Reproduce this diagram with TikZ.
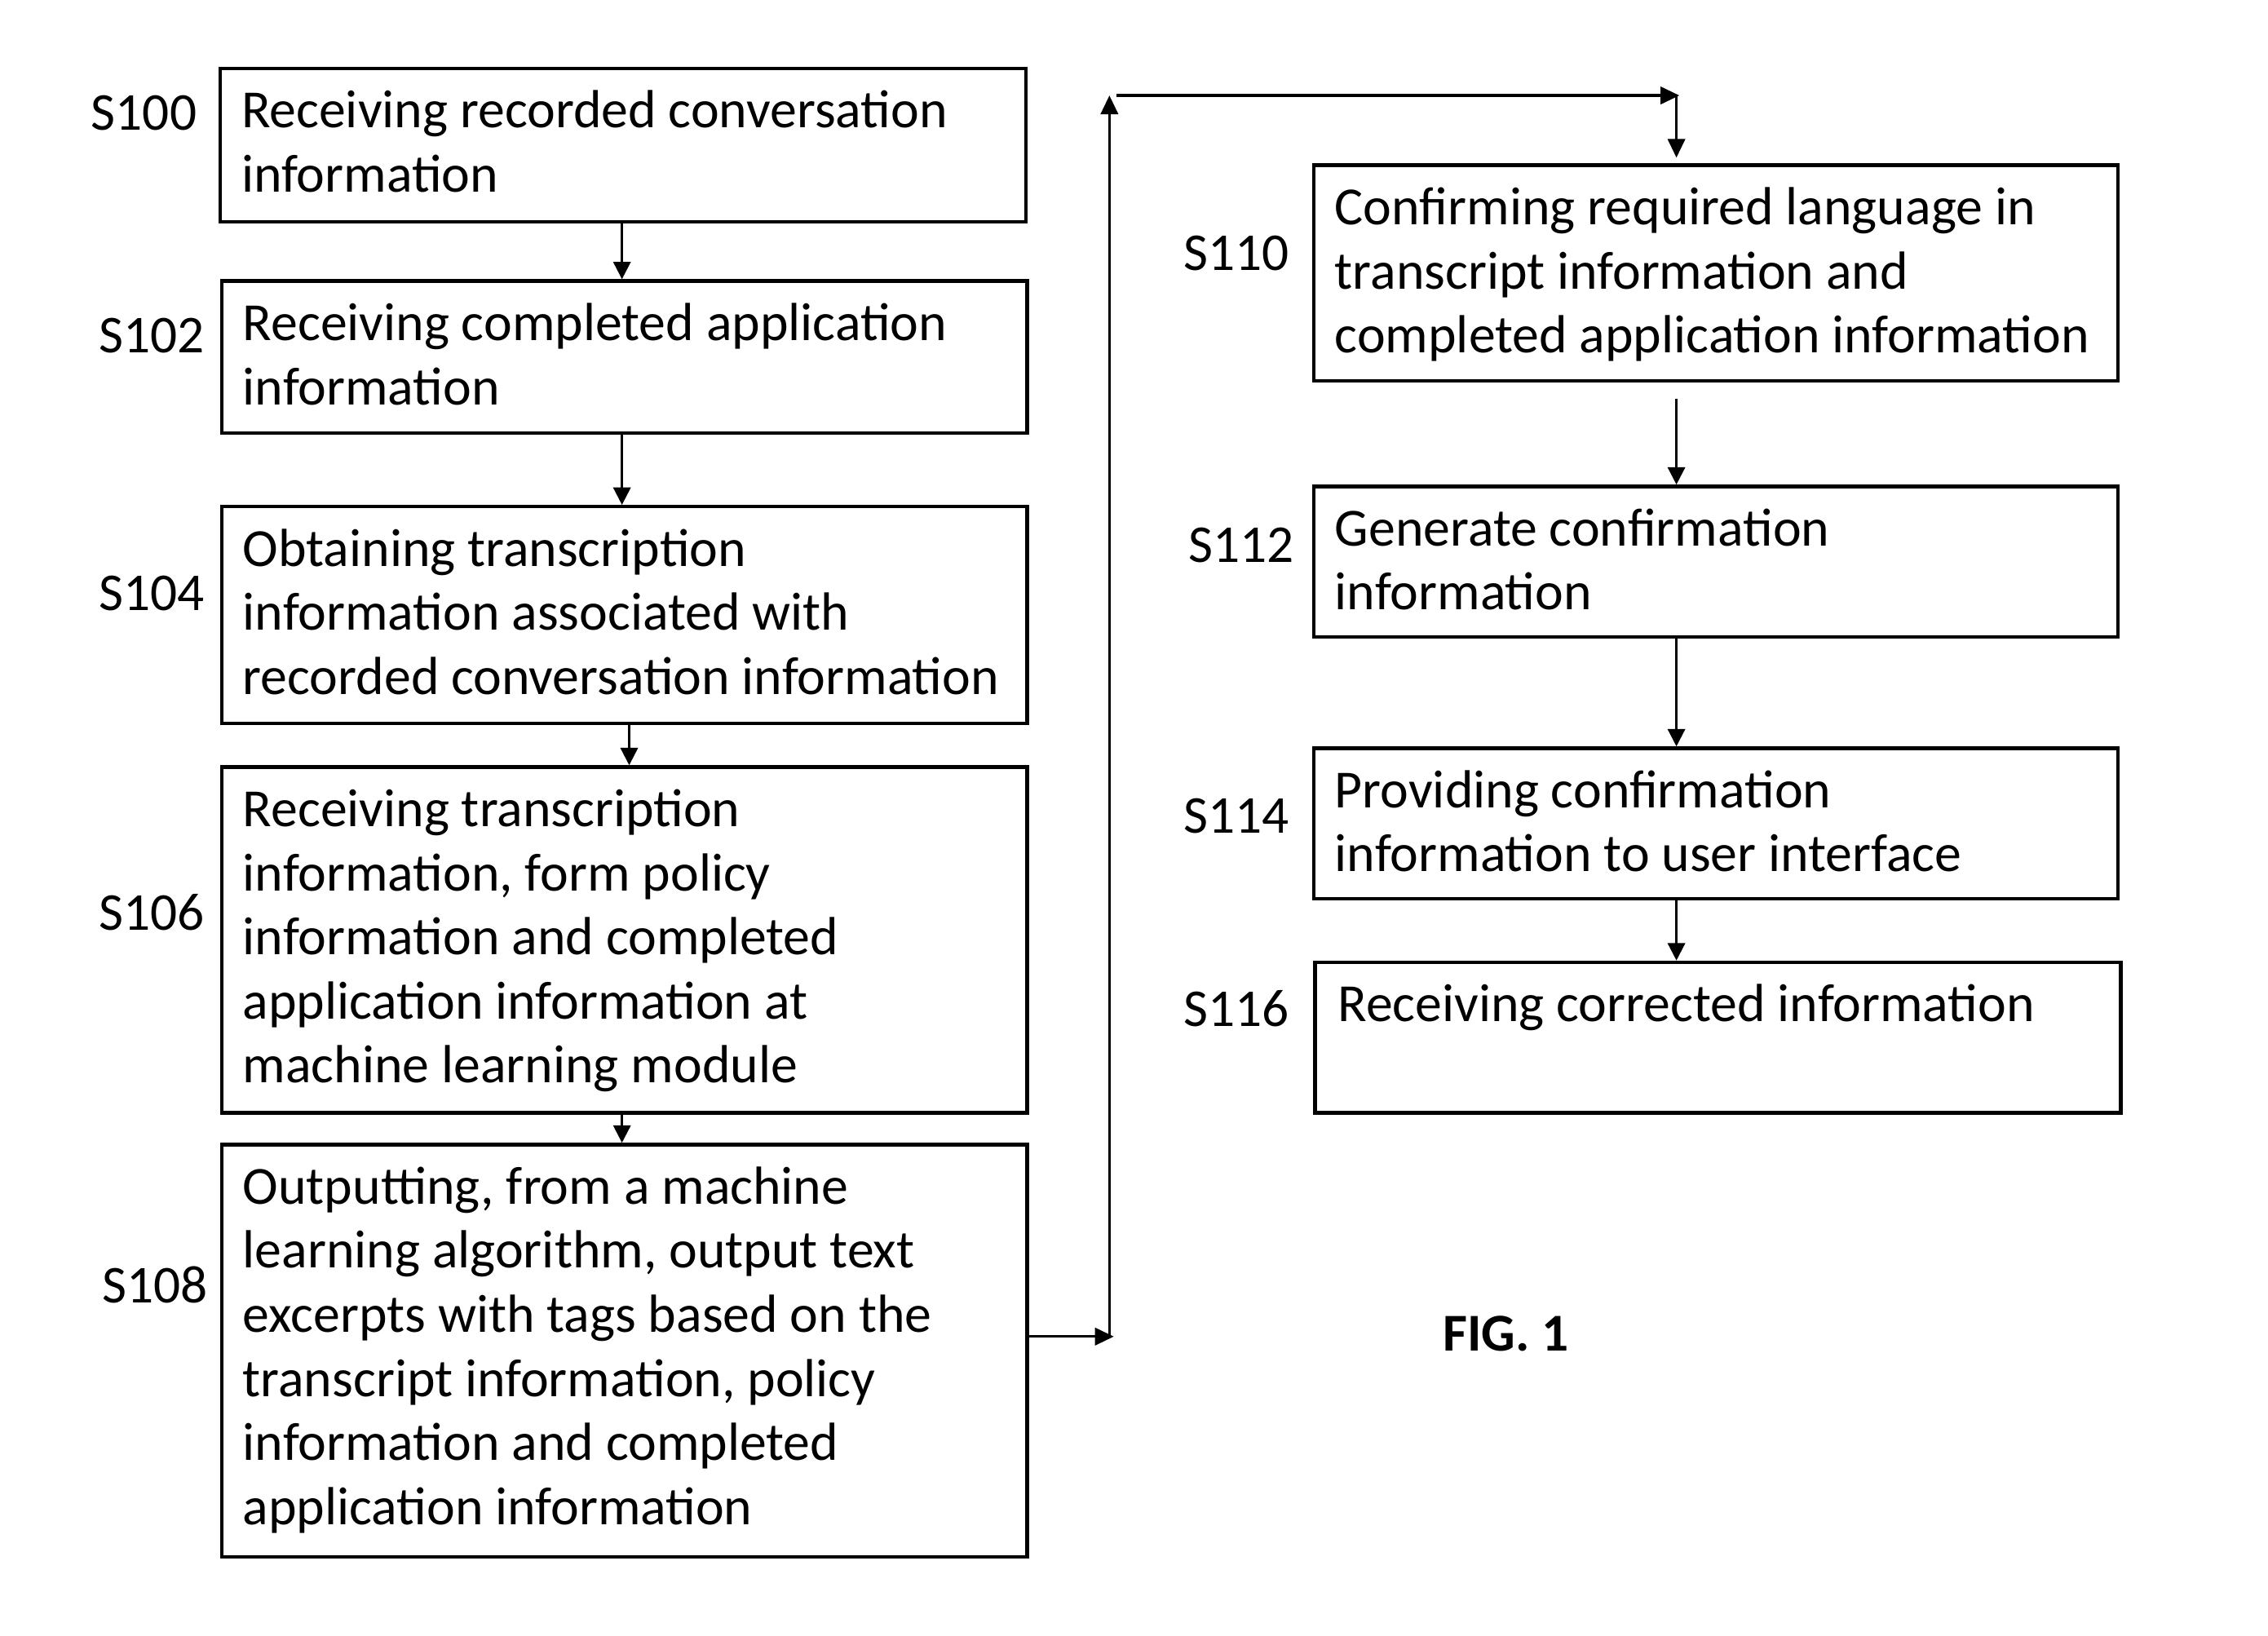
\documentclass[tikz,border=0pt]{standalone}
\usepackage{fontspec}
\setmainfont{Carlito}
\usetikzlibrary{arrows.meta,calc}
\newcommand\firstline{\rule{0pt}{15pt}}
\begin{document}
\begin{tikzpicture}[x=0.5pt,y=-0.5pt,
  stepbox/.style={draw, line width=1.25pt, anchor=north west, inner sep=0pt},
  steptext/.style={anchor=north west, align=left, inner sep=0pt, font=\fontsize{18.55pt}{22.15pt}\selectfont},
  steplabel/.style={inner sep=0pt, font=\fontsize{18.4pt}{22.15pt}\selectfont},
  arr/.style={-{Triangle[length=6pt,width=6pt]}, line width=0.7pt},
  looparr/.style={-{Triangle[length=6.5pt,width=6pt]}, line width=0.9pt},
]
\fill[white] (0,0) rectangle (1568,1131);
\useasboundingbox (0,0) rectangle (1568,1131);

% left column boxes
\node[stepbox, minimum width=278.5pt, minimum height=53pt] (s100) at (151,46) {};
\node[stepbox, minimum width=278.5pt, minimum height=52.5pt] (s102) at (152,193) {};
\node[stepbox, minimum width=278.5pt, minimum height=75pt] (s104) at (152,349) {};
\node[stepbox, minimum width=278.5pt, minimum height=119.5pt] (s106) at (152,529) {};
\node[stepbox, minimum width=278.5pt, minimum height=142.5pt] (s108) at (152,790) {};
% right column boxes
\node[stepbox, minimum width=278pt, minimum height=74.5pt] (s110) at (907,113) {};
\node[stepbox, minimum width=278pt, minimum height=52pt] (s112) at (907,335) {};
\node[stepbox, minimum width=278pt, minimum height=52pt] (s114) at (907,516) {};
\node[stepbox, minimum width=278.5pt, minimum height=52pt] (s116) at (908,664) {};

% texts (first baseline 42 units below box top)
\node[steptext] (t100) at ([shift={(15.5,12)}]s100.north west) {\firstline Receiving recorded conversation\\information};
\node[steptext] (t102) at ([shift={(15.5,12)}]s102.north west) {\firstline Receiving completed application\\information};
\node[steptext] (t104) at ([shift={(15.5,12)}]s104.north west) {\firstline Obtaining transcription\\information associated with\\recorded conversation information};
\node[steptext] (t106) at ([shift={(15.5,12)}]s106.north west) {\firstline Receiving transcription\\information, form policy\\information and completed\\application information at\\machine learning module};
\node[steptext] (t108) at ([shift={(15.5,12)}]s108.north west) {\firstline Outputting, from a machine\\learning algorithm, output text\\excerpts with tags based on the\\transcript information, policy\\information and completed\\application information};
\node[steptext] (t110) at ([shift={(15.5,12)}]s110.north west) {\firstline Confirming required language in\\transcript information and\\completed application information};
\node[steptext] (t112) at ([shift={(15.5,12)}]s112.north west) {\firstline Generate confirmation\\information};
\node[steptext] (t114) at ([shift={(15.5,12)}]s114.north west) {\firstline Providing confirmation\\information to user interface};
\node[steptext] (t116) at ([shift={(16.5,12)}]s116.north west) {\firstline Receiving corrected information};

% step labels
\node[steplabel] (l100) at (99.5,78) {S100};
\node[steplabel] (l102) at (105,232) {S102};
\node[steplabel] (l104) at (105,410) {S104};
\node[steplabel] (l106) at (105,631) {S106};
\node[steplabel] (l108) at (107,888) {S108};
\node[steplabel] (l110) at (855,175) {S110};
\node[steplabel] (l112) at (858,377) {S112};
\node[steplabel] (l114) at (855,564) {S114};
\node[steplabel] (l116) at (855,697) {S116};

\node[steplabel, font=\fontsize{18.4pt}{22.15pt}\selectfont\bfseries] (fig) at (1041,922) {FIG. 1};

% connectors
\coordinate (cx1) at (430,0);
\coordinate (cx2) at (435,0);
\coordinate (rx) at (1159,0);
\draw[arr] (cx1 |- s100.south) -- (cx1 |- s102.north);
\draw[arr] (cx1 |- s102.south) -- (cx1 |- s104.north);
\draw[arr] (cx2 |- s104.south) -- (cx2 |- s106.north);
\draw[arr] (cx1 |- s106.south) -- (cx1 |- s108.north);
\draw[arr] ([yshift=-5.5pt]rx |- s110.south) -- (rx |- s112.north);
\draw[arr] (rx |- s112.south) -- (rx |- s114.north);
\draw[arr] (rx |- s114.south) -- (rx |- s116.north);

% loop from S108 to S110
\coordinate (q0) at (770,924);
\coordinate (q1) at (767,924);
\coordinate (q2) at (767,66);
\coordinate (q3) at (772,66);
\coordinate (q4) at (1161,66);
\coordinate (q5) at (1159,66);
\draw[looparr] (s108.east |- q0) -- (q0);
\draw[looparr] (q1) -- (q2);
\draw[looparr] (q3) -- (q4);
\draw[looparr, shorten >=2pt] (q5) -- (rx |- s110.north);
\end{tikzpicture}
\end{document}
